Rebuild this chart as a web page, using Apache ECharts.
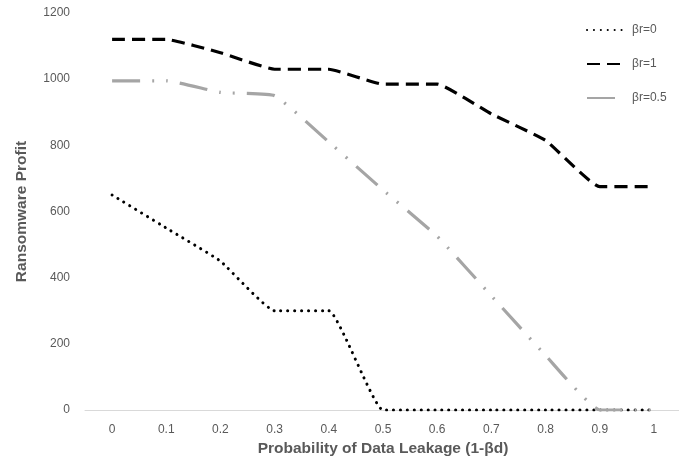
<!DOCTYPE html>
<html><head><meta charset="utf-8">
<script src="https://cdn.jsdelivr.net/npm/echarts@6/dist/echarts.min.js"></script>
<style>html,body{margin:0;padding:0;background:#fff}#c{width:679px;height:467px}</style>
</head><body><div id="c"></div>
<script>
const categories = ['0','0.1','0.2','0.3','0.4','0.5','0.6','0.7','0.8','0.9','1'];
const br0 = [650, 550, 450, 300, 300, 0, 0, 0, 0, 0, 0];
const br1 = [1120, 1120, 1080, 1030, 1030, 985, 985, 895, 815, 675, 675];
const br05 = [995, 995, 960, 950, 810, 665, 525, 345, 165, 0, 0];
const yTicks = {min: 0, max: 1200, interval: 200};
const names = ['βr=0', 'βr=1', 'βr=0.5'];

const font = 'Liberation Sans';
const chart = echarts.init(document.getElementById('c'));
chart.setOption({
  animation: false,
  textStyle: {fontFamily: font},
  grid: {left: 85, right: -2, top: 13, bottom: 57, containLabel: false, outerBoundsMode: 'none'},
  legend: {
    orient: 'vertical', left: 581, top: 19, itemWidth: 40, itemHeight: 14, itemGap: 22,
    itemStyle: {opacity: 0},
    textStyle: {color: '#595959', fontSize: 12, fontFamily: font},
    data: names
  },
  xAxis: {
    type: 'category', data: categories, boundaryGap: true,
    axisLine: {lineStyle: {color: '#d9d9d9', width: 1}},
    axisTick: {show: false},
    axisLabel: {color: '#595959', fontSize: 12, margin: 14},
    name: 'Probability of Data Leakage (1-βd)', nameLocation: 'middle', nameGap: 31,
    nameTextStyle: {color: '#595959', fontSize: 15.5, fontWeight: 'bold'}
  },
  yAxis: {
    type: 'value', min: yTicks.min, max: yTicks.max, interval: yTicks.interval,
    splitLine: {show: false}, axisLine: {show: false}, axisTick: {show: false},
    axisLabel: {color: '#595959', fontSize: 12, margin: 15, formatter: v => String(v)},
    name: 'Ransomware Profit', nameLocation: 'middle', nameGap: 55,
    nameTextStyle: {color: '#595959', fontSize: 15.5, fontWeight: 'bold'}
  },
  series: [
    {name: names[0], type: 'line', data: br0, symbol: 'none', smooth: 0.12,
     itemStyle: {color: '#000'},
     lineStyle: {color: '#000', width: 3, type: [0.1, 6.8], cap: 'round'}},
    {name: names[1], type: 'line', data: br1, symbol: 'none', smooth: 0.12,
     itemStyle: {color: '#000'},
     lineStyle: {color: '#000', width: 3.2, type: [13, 7]}},
    {name: names[2], type: 'line', data: br05, symbol: 'none', smooth: 0.12,
     itemStyle: {color: '#a5a5a5'},
     lineStyle: {color: '#a5a5a5', width: 3.2, type: [28, 12, 2, 12, 2, 12]}}
  ]
});
</script></body></html>
